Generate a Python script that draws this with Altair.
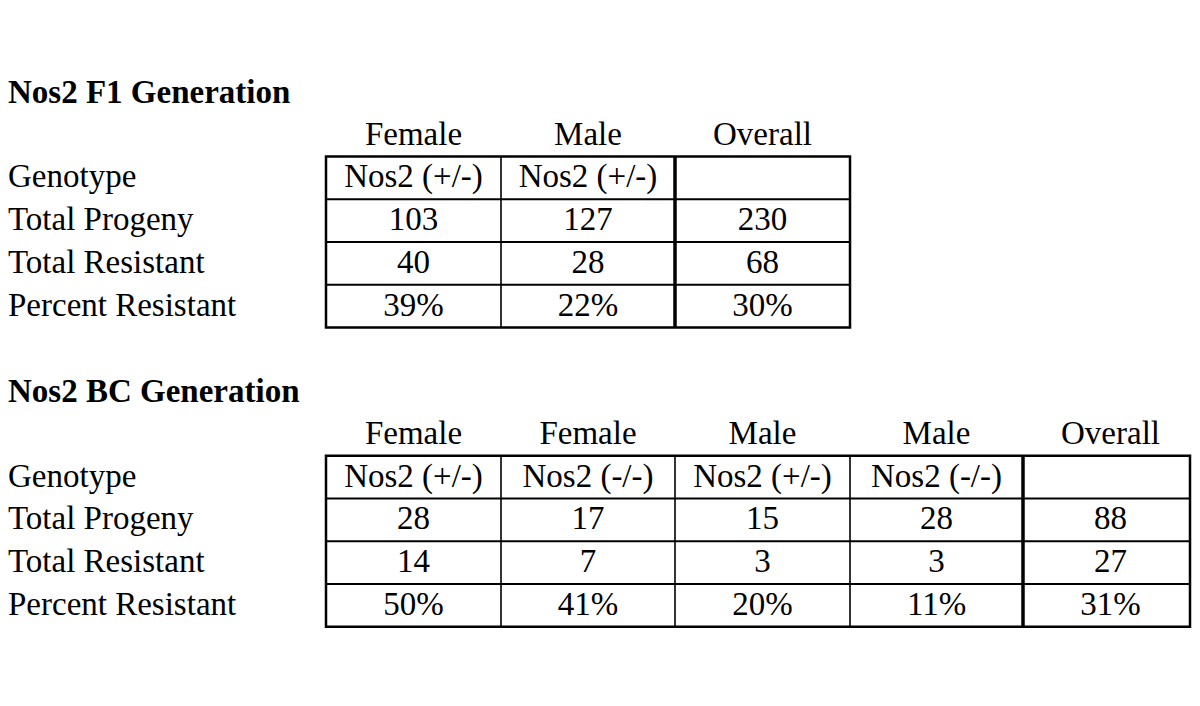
import altair as alt
import pandas as pd

# ---------------- data ----------------
row_labels = ["Genotype", "Total Progeny", "Total Resistant", "Percent Resistant"]

f1_title = "Nos2 F1 Generation"
f1_headers = ["Female", "Male", "Overall"]
f1_genotype = ["Nos2 (+/-)", "Nos2 (+/-)", ""]
f1_progeny = [103, 127, 230]
f1_resistant = [40, 28, 68]
f1_percent = ["39%", "22%", "30%"]

bc_title = "Nos2 BC Generation"
bc_headers = ["Female", "Female", "Male", "Male", "Overall"]
bc_genotype = ["Nos2 (+/-)", "Nos2 (-/-)", "Nos2 (+/-)", "Nos2 (-/-)", ""]
bc_progeny = [28, 17, 15, 28, 88]
bc_resistant = [14, 7, 3, 3, 27]
bc_percent = ["50%", "41%", "20%", "11%", "31%"]

# ---------------- layout (chart pixels) ----------------
W, H = 1184, 660
COL_EDGES = [318, 493, 667, 842, 1015, 1190]   # nominal column boundaries
RIGHT_LIMIT = 1182                              # keep strokes inside the canvas
ROW_H = 42.75
ROW0_TOP = 63
LABEL_X = 0
FONT = "Liberation Serif"
FS = 33
BASE = 0.72
TBASE = 0.75

xs = alt.Scale(domain=[0, W], nice=False, zero=False)
ys = alt.Scale(domain=[0, H], nice=False, zero=False, reverse=True)

def ry(r):
    return ROW0_TOP + r * ROW_H

def edge(c):
    return min(COL_EDGES[c], RIGHT_LIMIT)

def center(c):
    return (COL_EDGES[c] + COL_EDGES[c + 1]) / 2

blocks = [
    (0, f1_title, f1_headers, [f1_genotype, f1_progeny, f1_resistant, f1_percent]),
    (7, bc_title, bc_headers, [bc_genotype, bc_progeny, bc_resistant, bc_percent]),
]

titles, labels, cells = [], [], []
outer, hlines, vthin, vthick = [], [], [], []
for start, title, headers, rows in blocks:
    n = len(headers)
    titles.append({"x": LABEL_X, "y": ry(start + TBASE), "t": title})
    for c, h in enumerate(headers):
        cells.append({"x": center(c), "y": ry(start + 1 + BASE), "t": h})
    t0 = start + 2
    nr = len(row_labels)
    for r, (lab, vals) in enumerate(zip(row_labels, rows)):
        labels.append({"x": LABEL_X, "y": ry(t0 + r + BASE), "t": lab})
        for c, v in enumerate(vals):
            cells.append({"x": center(c), "y": ry(t0 + r + BASE), "t": str(v)})
    outer.append({"x": edge(0), "x2": edge(n), "y": ry(t0), "y2": ry(t0 + nr)})
    for r in range(1, nr):
        hlines.append({"x": edge(0), "x2": edge(n), "y": ry(t0 + r)})
    for c in range(1, n):
        rec = {"x": edge(c), "y": ry(t0), "y2": ry(t0 + nr)}
        (vthick if c == n - 1 else vthin).append(rec)

def txt(df, align, weight):
    return alt.Chart(pd.DataFrame(df)).mark_text(
        align=align, baseline="alphabetic", font=FONT, fontSize=FS,
        fontWeight=weight, color="black"
    ).encode(
        x=alt.X("x:Q", scale=xs, axis=None),
        y=alt.Y("y:Q", scale=ys, axis=None),
        text="t:N",
    )

title_layer = txt(titles, "left", "bold")
label_layer = txt(labels, "left", "normal")
cell_layer = txt(cells, "center", "normal")

outer_layer = alt.Chart(pd.DataFrame(outer)).mark_rect(
    fill=None, fillOpacity=0, stroke="black", strokeWidth=2.5
).encode(
    x=alt.X("x:Q", scale=xs, axis=None), x2="x2:Q",
    y=alt.Y("y:Q", scale=ys, axis=None), y2="y2:Q",
)
h_layer = alt.Chart(pd.DataFrame(hlines)).mark_rule(color="black", strokeWidth=2).encode(
    x=alt.X("x:Q", scale=xs, axis=None), x2="x2:Q",
    y=alt.Y("y:Q", scale=ys, axis=None),
)
vthin_layer = alt.Chart(pd.DataFrame(vthin)).mark_rule(color="black", strokeWidth=1.6).encode(
    x=alt.X("x:Q", scale=xs, axis=None),
    y=alt.Y("y:Q", scale=ys, axis=None), y2="y2:Q",
)
vthick_layer = alt.Chart(pd.DataFrame(vthick)).mark_rule(color="black", strokeWidth=3.5).encode(
    x=alt.X("x:Q", scale=xs, axis=None),
    y=alt.Y("y:Q", scale=ys, axis=None), y2="y2:Q",
)

chart = alt.layer(
    h_layer, vthin_layer, vthick_layer, outer_layer,
    title_layer, label_layer, cell_layer,
).properties(
    width=W, height=H, padding=0, background="white"
).configure_view(stroke=None)

chart.save("out.html", embed_options={"renderer": "svg", "actions": False})
